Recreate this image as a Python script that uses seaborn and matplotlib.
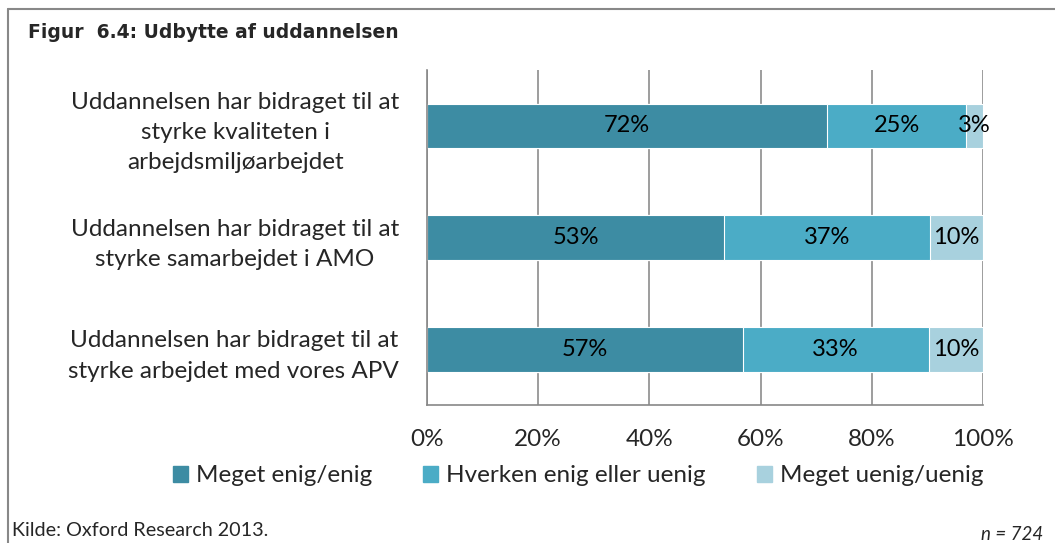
import matplotlib
matplotlib.use('Agg')
import matplotlib.pyplot as plt
import matplotlib.lines as mlines
import matplotlib.patches as mpatches
import numpy as np
import pandas as pd
import seaborn as sns

sns.set_style('white')
plt.rcParams['font.family'] = ['Lato', 'DejaVu Sans']

statements = ['Uddannelsen har bidraget til at\nstyrke kvaliteten i\narbejdsmiljøarbejdet',
              'Uddannelsen har bidraget til at\nstyrke samarbejdet i AMO',
              'Uddannelsen har bidraget til at\nstyrke arbejdet med vores APV']
enig = [72.0, 53.4, 56.8]
hverken = [25.0, 37.0, 33.4]
uenig = [3.0, 9.6, 9.8]
series_names = ['Meget enig/enig', 'Hverken enig eller uenig', 'Meget uenig/uenig']
colors = ['#3D8CA3', '#4BACC6', '#A8D1DE']
xticks = [0, 20, 40, 60, 80, 100]

df = pd.DataFrame({'statement': statements, 'enig': enig,
                   'hverken': hverken, 'uenig': uenig})
df['c1'] = df['enig']
df['c2'] = df['enig'] + df['hverken']
df['c3'] = df['c2'] + df['uenig']

fig = plt.figure(figsize=[10.55, 5.43], dpi=100)
ax = fig.add_axes([427/1055, 1-405/543, 556/1055, 335/543])

# stacked bars: draw the cumulative totals from back to front
for col, c in zip(['c3', 'c2', 'c1'], colors[::-1]):
    sns.barplot(data=df, y='statement', x=col, color=c, orient='h', saturation=1,
                width=0.4, edgecolor='white', linewidth=0.8, ax=ax, zorder=3)

for i, row in df.iterrows():
    starts = [0, row['c1'], row['c2']]
    for s, v in zip(starts, [row['enig'], row['hverken'], row['uenig']]):
        ax.text(s + v/2, i, f'{round(v):.0f}%', ha='center', va='center',
                fontsize=17, color='black', zorder=5)

ax.set_xlim(0, 100)
ax.set_ylim(2.5, -0.5)
ax.set_xticks(xticks)
ax.set_xticklabels([f'{t}%' for t in xticks], fontsize=17.5)
ax.set_xlabel('')
ax.set_ylabel('')
ax.set_yticks([0, 1, 2])
ax.set_yticklabels(statements, fontsize=17.5, linespacing=1.55)
for lab in ax.get_yticklabels():
    lab.set_multialignment('center')
ax.set_yticks([-0.5, 0.5, 1.5, 2.5], minor=True)
ax.tick_params(axis='y', which='major', length=0, pad=20)
ax.tick_params(axis='y', which='minor', length=7, width=1.2, color='#888888', direction='out')
ax.tick_params(axis='x', length=7, width=1.2, color='#888888', direction='out', pad=10)
ax.grid(axis='x', color='#8c8c8c', linewidth=1.2, zorder=0)
ax.set_axisbelow(True)
for side in ['top', 'right']:
    ax.spines[side].set_visible(False)
for side in ['left', 'bottom']:
    ax.spines[side].set_color('#888888')
    ax.spines[side].set_linewidth(1.2)
    ax.spines[side].set_zorder(4)

handles = [mpatches.Patch(color=c, label=n) for c, n in zip(colors, series_names)]
fig.legend(handles=handles, loc='center', bbox_to_anchor=(578/1055, 1-476/543), ncol=3,
           frameon=False, fontsize=17.5, handlelength=0.62, handleheight=0.62,
           handletextpad=0.33, columnspacing=2.1, borderpad=0)

fig.text(28/1055, 1-33/543, 'Figur  6.4: Udbytte af uddannelsen', fontsize=13.5,
         fontweight='bold', family='DejaVu Sans', va='center', ha='left')
fig.text(12/1055, 1-530/543, 'Kilde: Oxford Research 2013.', fontsize=14.2, va='center')
fig.text(1043/1055, 1-534/543, 'n = 724', fontsize=13.5, style='italic', va='center', ha='right')

fig.add_artist(mlines.Line2D([8/1055, 1], [1-9/543, 1-9/543], color='#888888', linewidth=1.5))
fig.add_artist(mlines.Line2D([8/1055, 8/1055], [0, 1-9/543], color='#888888', linewidth=1.5))

fig.savefig('out.png', dpi=100)
